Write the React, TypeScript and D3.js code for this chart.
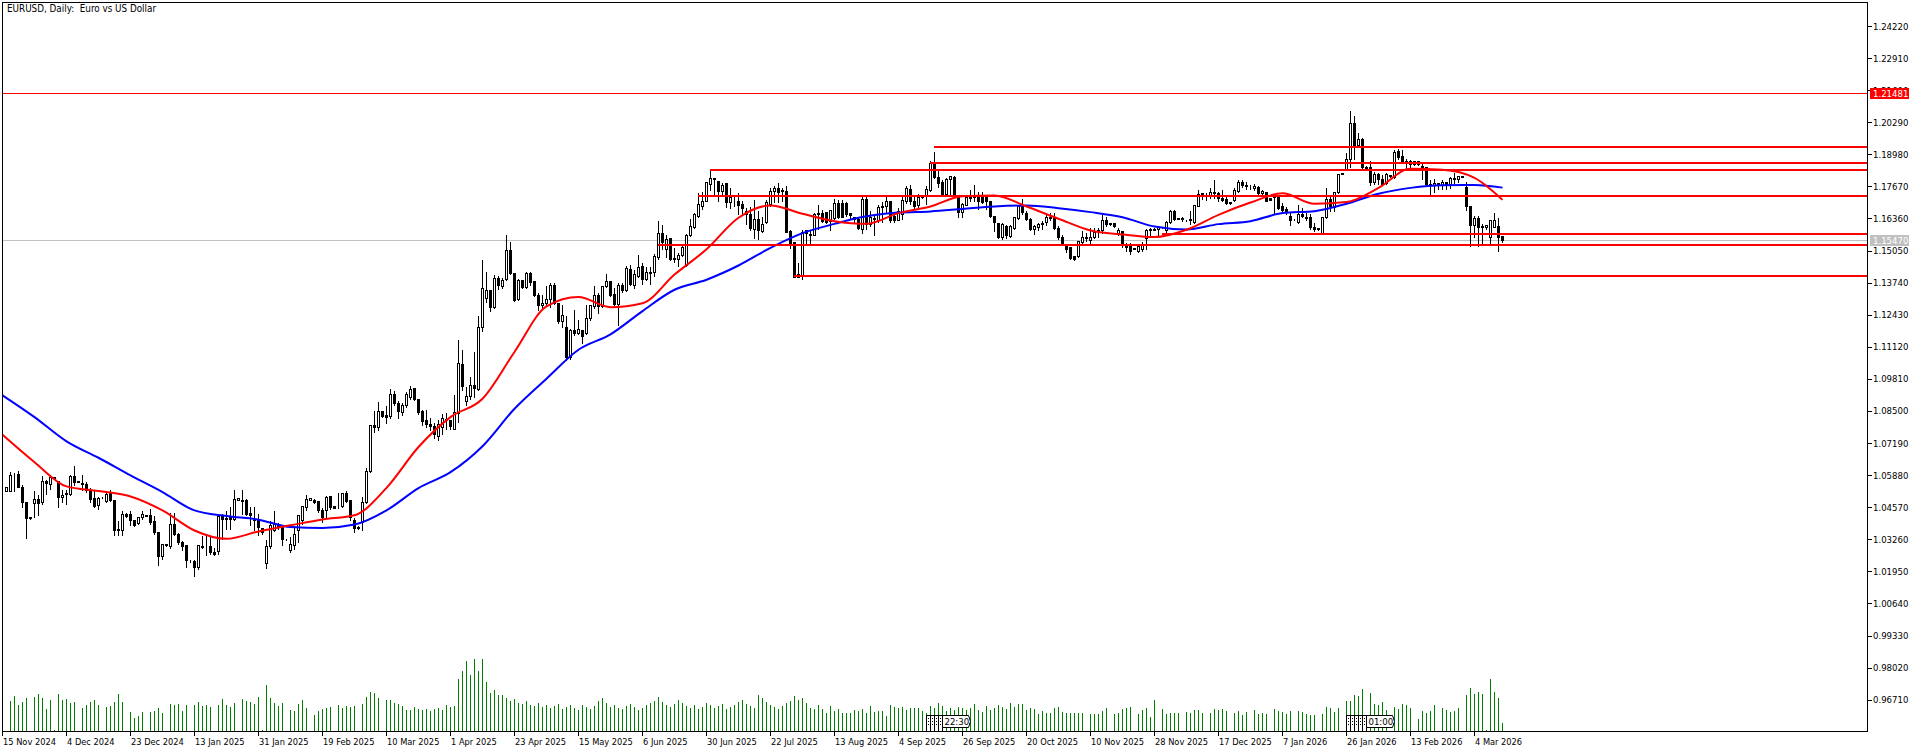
import React from 'react';
import * as d3 from 'd3';

type Candle = [number, number, number, number]; // open, high, low, close in 1/10000

const WIDTH = 1920;
const HEIGHT = 752;

// EURUSD daily. Bars start at index 1.
const candlesWinter2024: Candle[] = [
  [10523,10539,10523,10539],[10523,10604,10523,10590],[10591,10600,10523,10593],[10591,10607,10538,10538],[10538,10553,10458,10478],
  [10478,10478,10331,10414],[10417,10420,10410,10414],[10475,10528,10417,10492],[10492,10512,10424,10475],[10478,10587,10471,10566],
  [10566,10573,10512,10556],[10553,10594,10532,10580],[10580,10585,10575,10578],[10564,10570,10458,10498],[10498,10532,10478,10508],
  [10516,10532,10471,10509],[10512,10594,10505,10584],[10584,10628,10546,10560],[10566,10570,10558,10561],[10555,10594,10526,10550],
  [10550,10566,10519,10528],[10526,10539,10478,10492],[10494,10526,10458,10464],[10467,10501,10451,10496],[10498,10503,10495,10500],
  [10482,10526,10478,10512],[10516,10532,10482,10485],[10488,10488,10342,10365],[10367,10403,10342,10362],[10365,10447,10342,10428],
  [10428,10437,10417,10422],[10428,10444,10383,10406],[10406,10410,10379,10383],[10392,10417,10387,10417],[10417,10444,10410,10428],
  [10426,10430,10420,10422],[10424,10455,10390,10396],[10399,10424,10349,10356],[10356,10356,10220,10256],[10256,10308,10247,10305],
  [10306,10310,10300,10304],[10298,10437,10290,10387],[10387,10437,10342,10346],[10346,10356,10308,10315],[10315,10322,10281,10298],
  [10301,10308,10213,10243],[10243,10247,10233,10241],[10236,10247,10175,10213],[10213,10305,10206,10301],[10298,10342,10290,10296],
  [10298,10342,10260,10300],[10300,10342,10267,10274],[10274,10294,10260,10267],[10278,10434,10267,10421],[10421,10434,10328,10410],
  [10414,10444,10369,10409],[10417,10464,10369,10409],[10410,10532,10406,10492],[10488,10498,10485,10493],[10488,10532,10430,10482],
  [10488,10495,10424,10428],[10434,10464,10383,10424],[10410,10464,10362,10406],[10406,10433,10342,10376],[10372,10376,10346,10356],
  [10229,10328,10209,10297],[10297,10406,10292,10383],[10362,10444,10360,10387],[10390,10396,10370,10376],[10380,10380,10301,10326],
  [10328,10333,10322,10326],[10281,10338,10274,10305],[10301,10383,10288,10346],[10362,10426,10315,10426],[10403,10464,10390,10460],
];
const candlesSpring2025: Candle[] = [
  [10458,10512,10447,10492],[10488,10498,10485,10493],[10485,10494,10476,10480],[10482,10485,10437,10444],[10447,10458,10396,10417],
  [10447,10505,10417,10498],[10501,10505,10451,10458],[10460,10463,10453,10455],[10463,10519,10455,10464],[10462,10519,10458,10516],
  [10516,10528,10478,10482],[10485,10488,10403,10417],[10406,10417,10356,10373],[10375,10383,10366,10372],[10396,10501,10362,10478],
  [10478,10623,10474,10604],[10605,10795,10601,10791],[10791,10853,10764,10785],[10785,10889,10771,10849],[10849,10853,10825,10830],
  [10832,10873,10801,10825],[10828,10945,10821,10918],[10918,10934,10873,10883],[10883,10893,10821,10850],[10846,10887,10832,10873],
  [10873,10931,10866,10921],[10907,10955,10900,10941],[10944,10948,10893,10900],[10900,10905,10839,10846],[10849,10859,10791,10809],
  [10812,10857,10785,10797],[10798,10825,10771,10787],[10787,10805,10741,10755],[10747,10819,10733,10798],[10785,10842,10757,10823],
  [10812,10846,10778,10819],[10812,10819,10778,10787],[10778,10921,10775,10846],[10842,11142,10805,11047],[11043,11104,10934,10952],
  [10891,10951,10873,10910],[10911,10991,10900,10955],[10955,11093,10907,10944],[10941,11240,10937,11194],[11193,11471,11176,11353],
  [11311,11421,11295,11345],[11345,11349,11257,11274],[11274,11410,11271,11394],[11394,11407,11349,11363],[11359,11397,11352,11386],
  [11390,11571,11386,11508],[11508,11546,11410,11414],[11414,11414,11301,11305],[11308,11394,11305,11383],[11386,11390,11353,11356],
  [11356,11421,11353,11414],[11413,11421,11363,11376],[11380,11386,11319,11325],[11325,11335,11261,11281],[11281,11329,11270,11292],
  [11292,11363,11277,11308],[11308,11376,11274,11363],[11363,11376,11285,11291],[11291,11291,11209,11216],[11216,11285,11193,11243],
  [11194,11240,11059,11070],[11070,11190,11063,11182],[11182,11265,11159,11168],[11168,11227,11165,11183],[11179,11186,11127,11155],
  [11168,11285,11165,11231],[11229,11285,11223,11281],[11277,11363,11271,11325],[11322,11335,11250,11280],[11277,11363,11274,11359],
];
const candlesSummer2025: Candle[] = [
  [11359,11414,11356,11379],[11379,11383,11319,11322],[11326,11356,11281,11285],[11285,11376,11203,11363],[11363,11376,11335,11342],
  [11342,11448,11338,11435],[11431,11451,11363,11367],[11363,11431,11353,11410],[11403,11492,11399,11437],[11440,11458,11369,11390],
  [11390,11444,11383,11417],[11417,11444,11369,11413],[11417,11496,11401,11482],[11478,11628,11471,11577],[11577,11614,11512,11539],
  [11512,11573,11478,11553],[11557,11562,11467,11471],[11475,11519,11458,11470],[11470,11499,11440,11488],[11485,11533,11481,11519],
  [11448,11577,11444,11569],[11567,11639,11564,11605],[11601,11662,11598,11655],[11648,11743,11641,11696],[11689,11750,11675,11709],
  [11709,11788,11707,11783],[11777,11832,11753,11802],[11798,11802,11737,11800],[11791,11794,11709,11750],[11750,11784,11737,11771],
  [11781,11784,11682,11703],[11703,11764,11679,11723],[11717,11730,11685,11715],[11709,11746,11655,11693],[11696,11712,11655,11679],
  [11665,11682,11614,11655],[11655,11689,11587,11597],[11594,11716,11557,11635],[11632,11669,11553,11587],[11584,11648,11580,11614],
  [11621,11716,11617,11703],[11696,11764,11689,11750],[11747,11771,11703,11761],[11761,11784,11703,11743],[11753,11764,11709,11747],
  [11750,11771,11580,11580],[11583,11594,11516,11535],[11542,11542,11399,11399],[11399,11458,11397,11410],[11407,11594,11390,11580],
  [11587,11594,11530,11576],[11573,11594,11533,11569],[11569,11662,11567,11655],[11655,11696,11594,11659],[11659,11675,11621,11625],
  [11662,11666,11617,11621],[11625,11675,11587,11671],[11639,11720,11635,11699],[11701,11716,11639,11641],[11701,11716,11641,11644],
  [11701,11709,11648,11655],[11658,11662,11635,11651],[11641,11648,11621,11635],[11635,11648,11594,11598],[11594,11737,11576,11716],
  [11716,11734,11594,11614],[11614,11671,11607,11641],[11639,11655,11567,11635],[11631,11696,11621,11682],[11682,11707,11621,11685],
  [11685,11730,11662,11709],[11707,11709,11621,11631],[11648,11666,11621,11628],[11631,11682,11628,11666],[11655,11730,11635,11712],
];
const candlesAutumn2025: Candle[] = [
  [11707,11771,11700,11760],[11757,11777,11696,11707],[11707,11730,11675,11689],[11693,11739,11675,11723],[11723,11731,11720,11727],
  [11727,11771,11696,11757],[11753,11873,11747,11862],[11859,11913,11802,11807],[11807,11843,11764,11780],[11784,11798,11730,11734],
  [11734,11805,11730,11798],[11798,11815,11737,11811],[11807,11815,11723,11730],[11730,11730,11641,11662],[11662,11703,11641,11696],
  [11693,11730,11690,11723],[11723,11757,11709,11719],[11723,11775,11709,11728],[11726,11750,11675,11709],[11723,11750,11698,11703],
  [11730,11734,11675,11707],[11707,11709,11644,11648],[11648,11648,11584,11621],[11618,11621,11557,11560],[11560,11621,11553,11614],
  [11605,11614,11557,11567],[11564,11614,11560,11605],[11598,11648,11594,11644],[11639,11696,11635,11689],[11689,11720,11655,11662],
  [11660,11669,11631,11635],[11635,11641,11590,11594],[11594,11614,11573,11605],[11601,11621,11587,11614],[11613,11628,11594,11617],
  [11621,11662,11611,11641],[11644,11662,11628,11639],[11641,11662,11594,11598],[11598,11611,11553,11560],[11560,11573,11526,11533],
  [11533,11533,11499,11512],[11519,11519,11469,11474],[11481,11485,11465,11471],[11481,11549,11478,11546],[11539,11587,11533,11562],
  [11560,11580,11545,11556],[11549,11601,11535,11562],[11560,11603,11557,11580],[11590,11601,11560,11584],[11587,11655,11576,11630],
  [11628,11648,11607,11614],[11617,11620,11610,11613],[11617,11622,11600,11607],[11576,11600,11567,11587],[11584,11587,11519,11530],
  [11526,11539,11505,11519],[11522,11539,11489,11505],[11516,11520,11510,11512],[11503,11533,11499,11522],[11512,11546,11505,11533],
  [11557,11598,11512,11590],[11590,11601,11560,11593],[11590,11600,11588,11594],[11592,11607,11560,11601],[11600,11606,11596,11603],
  [11587,11628,11580,11621],[11621,11675,11617,11666],[11666,11675,11630,11635],[11639,11642,11632,11635],[11636,11648,11625,11632],
  [11630,11633,11625,11628],[11631,11669,11614,11635],[11621,11696,11617,11693],[11689,11757,11685,11737],
];
const candlesWinter2026: Candle[] = [
  [11734,11743,11716,11739],[11735,11743,11713,11738],[11726,11764,11720,11746],[11743,11799,11719,11739],[11742,11750,11709,11720],
  [11720,11757,11707,11712],[11716,11730,11696,11698],[11703,11705,11697,11700],[11712,11764,11707,11753],[11747,11798,11743,11784],
  [11784,11798,11764,11771],[11771,11791,11757,11767],[11769,11775,11757,11767],[11761,11780,11753,11767],[11764,11771,11736,11739],
  [11739,11757,11730,11750],[11743,11750,11707,11709],[11720,11725,11710,11712],[11737,11739,11655,11723],[11726,11737,11675,11680],
  [11685,11703,11662,11669],[11675,11685,11655,11662],[11648,11662,11611,11631],[11635,11640,11630,11633],[11621,11696,11617,11655],
  [11655,11682,11641,11648],[11644,11662,11631,11637],[11641,11658,11594,11601],[11603,11621,11584,11594],[11597,11600,11590,11594],
  [11576,11648,11573,11644],[11641,11766,11639,11716],[11716,11730,11666,11685],[11682,11750,11666,11746],[11743,11821,11739,11818],
  [11823,11827,11816,11818],[11839,11907,11832,11879],[11879,12077,11845,12026],[12026,12060,11879,11937],[11938,11991,11927,11961],
  [11961,11968,11843,11845],[11848,11853,11840,11841],[11845,11873,11771,11784],[11784,11829,11775,11818],[11818,11825,11777,11798],
  [11798,11818,11771,11775],[11780,11825,11775,11818],[11815,11819,11805,11809],[11805,11920,11802,11909],[11913,11923,11879,11886],
  [11892,11920,11862,11866],[11869,11882,11843,11863],[11869,11879,11843,11859],[11869,11872,11855,11859],[11871,11875,11855,11859],
  [11852,11869,11798,11845],[11848,11848,11771,11775],[11771,11798,11734,11777],[11771,11802,11743,11781],[11775,11784,11757,11781],
  [11771,11798,11757,11784],[11787,11791,11757,11771],[11775,11811,11761,11802],[11802,11825,11780,11798],[11798,11815,11784,11811],
  [11811,11815,11805,11807],[11764,11791,11669,11685],[11689,11689,11522,11611],[11611,11651,11560,11637],[11639,11651,11522,11601],
  [11605,11617,11526,11601],[11601,11615,11595,11611],[11560,11631,11526,11628],[11603,11662,11601,11628],[11607,11644,11505,11560],
  [11563,11565,11539,11547],
];
const candles: Candle[] = [
  ...candlesWinter2024, ...candlesSpring2025, ...candlesSummer2025, ...candlesAutumn2025, ...candlesWinter2026,
];

// tick volume in thousands, 0 where no bar is visible
const volumesA = [
  0,30,35,26,29,33,0,34,37,33,22,31,1,37,31,32,28,29,0,23,26,29,31,26,0,24,25,29,37,29,0,19,13,15,19,0,19,20,23,18,0,27,26,27,20,26,0,26,29,25,26,24,0,
  26,32,26,24,28,0,32,30,29,27,34,1,46,33,28,25,28,0,21,20,27,31,23,0,16,20,22,23,24,0,26,23,25,24,25,0,27,34,39,38,33,0,31,31,28,27,25,21,21,24,22,21,
  22,20,22,23,21,26,24,25,52,60,70,56,72,60,72,49,38,41,36,
];
const volumesB = [
  36,33,30,32,28,27,30,26,25,28,24,26,23,25,27,22,24,26,23,21,26,24,22,25,30,33,28,24,26,23,22,25,27,24,21,23,26,28,30,34,
  29,26,24,27,31,28,25,23,26,22,24,28,26,23,25,27,22,24,26,29,31,27,25,23,36,33,29,26,24,22,25,28,30,35,31,
];
const volumesC = [
  33,28,23,22,26,22,18,25,20,22,18,18,18,21,20,22,18,25,19,20,20,15,26,24,23,24,21,23,23,23,20,18,25,23,28,25,20,23,21,24,23,21,23,27,21,19,25,21,23,26,24,22,28,24,27,27,
  21,23,22,17,20,18,18,23,24,19,18,18,18,18,18,0,17,17,17,20,23,0,17,18,22,23,24,0,17,21,23,14,31,0,22,17,18,18,18,0,19,18,21,21,18,0,18,22,21,22,20,0,18,20,16,19,0,21,17,18,17,0,22,20,19,17,20,0,20,
];
const volumesD = [
  19,17,16,16,0,17,24,23,19,23,0,30,30,36,35,42,0,38,27,26,29,21,0,24,22,27,26,23,0,12,20,18,20,26,0,23,21,19,20,23,0,36,43,37,39,37,1,52,39,33,8,
];
const volumes = [...volumesA, ...volumesB, ...volumesC, ...volumesD];

// moving averages, one reading every 8 bars and the last bar
const maBars = [
  0,8,16,24,32,40,48,56,64,72,80,88,96,104,112,120,128,136,144,152,160,168,176,184,192,200,208,216,224,232,240,248,256,264,272,280,288,296,304,312,320,328,336,344,352,360,368,375,
];
const maFast = [
  10753,10641,10542,10523,10501,10444,10362,10328,10358,10383,10407,10424,10536,10703,10825,10900,11091,11277,11315,11274,11290,11407,11510,11639,11689,11655,11625,11614,11658,11685,11727,11730,11685,11635,11587,11571,11560,11590,11651,11701,11739,11696,11703,11761,11839,11835,11802,11712,
];
const maSlow = [
  10914,10825,10726,10659,10587,10519,10444,10421,10406,10376,10372,10386,10444,10535,10600,10706,10859,10982,11100,11163,11258,11345,11386,11444,11516,11576,11614,11645,11660,11665,11675,11685,11689,11678,11662,11641,11603,11591,11613,11625,11658,11666,11696,11737,11761,11772,11773,11762,
];

// horizontal levels: price and the bar each one starts from
const levelPrices = [1.1929, 1.1864, 1.1835, 1.1729, 1.1574, 1.1529, 1.1401];
const levelStartBars = [233, 232, 177, 174, 290, 164, 198];

const resistancePrice = 1.21481;
const lastPrice = 1.1547;

const yTickValues = [
  1.2422, 1.2291, 1.216, 1.2029, 1.1898, 1.1767, 1.1636, 1.1505, 1.1374, 1.1243, 1.1112, 1.0981, 1.085, 1.0719, 1.0588, 1.0457, 1.0326, 1.0195, 1.0064, 0.9933, 0.9802, 0.9671,
];
const dateLabels = [
  '15 Nov 2024', '4 Dec 2024', '23 Dec 2024', '13 Jan 2025', '31 Jan 2025', '19 Feb 2025', '10 Mar 2025', '1 Apr 2025', '23 Apr 2025', '15 May 2025', '6 Jun 2025', '30 Jun 2025',
  '22 Jul 2025', '13 Aug 2025', '4 Sep 2025', '26 Sep 2025', '20 Oct 2025', '10 Nov 2025', '28 Nov 2025', '17 Dec 2025', '7 Jan 2026', '26 Jan 2026', '13 Feb 2026', '4 Mar 2026',
];

// stacked event flags on the time axis
const flagGroups = [
  { bars: [231, 232, 233, 234], labelBar: 235, label: '22:30' },
  { bars: [336, 337, 338, 339, 340], labelBar: 341, label: '01:00' },
];

const FONT = '"DejaVu Sans Condensed", "DejaVu Sans", sans-serif';

const FRAME = { left: 2, top: 2, right: 1867, bottom: 731 };

const xBar = d3.scaleLinear().domain([0, 375]).range([2, 1502]);
const yPrice = d3.scaleLinear().domain([1.2422, 0.9671]).range([26, 699.7]);
const yVolume = d3.scaleLinear().domain([0, 100]).range([FRAME.bottom, FRAME.bottom - 100]);

const px = (v: number) => Math.round(v) + 0.5;
const pip = (v: number) => v / 10000;

const maLine = d3
  .line<number>()
  .x((_, i) => xBar(maBars[i]) + 0.5)
  .y(d => yPrice(pip(d)))
  .curve(d3.curveMonotoneX);

const CandleMark: React.FC<{ candle: Candle; bar: number }> = ({ candle, bar }) => {
  const [o, h, l, c] = candle;
  const x = xBar(bar);
  const top = px(yPrice(pip(Math.max(o, c))));
  const bottom = px(yPrice(pip(Math.min(o, c))));
  const bull = c >= o;
  return (
    <g>
      <line x1={x + 0.5} x2={x + 0.5} y1={px(yPrice(pip(h)))} y2={px(yPrice(pip(l)))} stroke="#000" />
      <rect x={x - 0.5} y={top} width={2} height={bottom - top} fill={bull ? '#fff' : '#000'} stroke="#000" />
    </g>
  );
};

const Flags: React.FC<{ group: (typeof flagGroups)[number] }> = ({ group }) => {
  const top = 715.5;
  const labelX = xBar(group.labelBar) + 0.5;
  const mid = 721.5;
  const boxBottom = 727.5;
  return (
    <g>
      {group.bars.map(b => {
        const x = xBar(b) + 0.5;
        return (
          <g key={b}>
            <rect x={x} y={top} width={4} height={FRAME.bottom - top} fill="#fff" stroke="#000" shapeRendering="crispEdges" />
            <line x1={x + 2} x2={x + 2} y1={top + 2} y2={boxBottom - 1} stroke="#000" strokeDasharray="1 2" shapeRendering="crispEdges" />
          </g>
        );
      })}
      <line x1={labelX} x2={labelX} y1={top} y2={FRAME.bottom} stroke="#000" shapeRendering="crispEdges" />
      <path
        d={`M${labelX} ${top}H${labelX + 26}L${labelX + 28} ${mid}L${labelX + 26} ${boxBottom}H${labelX}Z`}
        fill="#fff"
        stroke="#000"
      />
      <text x={labelX + 2} y={725} fontSize={9.5} fontFamily={FONT} fill="#000">
        {group.label}
      </text>
    </g>
  );
};

export default function App() {
  return (
    <svg
      width={WIDTH}
      height={HEIGHT}
      style={{ position: 'absolute', left: 0, top: 0, display: 'block', background: '#fff' }}
    >
      <g shapeRendering="crispEdges">
        <line x1={FRAME.left} x2={FRAME.right} y1={px(yPrice(lastPrice))} y2={px(yPrice(lastPrice))} stroke="#c0c0c0" />
        {candles.map((c, i) => (
          <CandleMark key={i} candle={c} bar={i + 1} />
        ))}
        {volumes.map((v, i) =>
          v > 0 ? (
            <line
              key={i}
              x1={xBar(i + 1) + 0.5}
              x2={xBar(i + 1) + 0.5}
              y1={yVolume(v)}
              y2={FRAME.bottom}
              stroke="#008000"
            />
          ) : null
        )}
      </g>

      <path d={maLine(maSlow) || ''} fill="none" stroke="#0000ff" strokeWidth={2} />
      <path d={maLine(maFast) || ''} fill="none" stroke="#ff0000" strokeWidth={2} />

      <g shapeRendering="crispEdges">
        {levelPrices.map((p, i) => (
          <line
            key={p}
            x1={xBar(levelStartBars[i])}
            x2={FRAME.right}
            y1={Math.round(yPrice(p))}
            y2={Math.round(yPrice(p))}
            stroke="#ff0000"
            strokeWidth={2}
          />
        ))}
        <line
          x1={FRAME.left}
          x2={FRAME.right}
          y1={px(yPrice(resistancePrice))}
          y2={px(yPrice(resistancePrice))}
          stroke="#ff0000"
        />
      </g>

      {flagGroups.map(g => (
        <Flags key={g.label} group={g} />
      ))}

      {/* frame */}
      <rect
        x={FRAME.left + 0.5}
        y={FRAME.top + 0.5}
        width={FRAME.right - FRAME.left}
        height={FRAME.bottom - FRAME.top}
        fill="none"
        stroke="#000"
        shapeRendering="crispEdges"
      />

      {/* price axis */}
      {yTickValues.map(t => (
        <g key={t}>
          <line
            x1={FRAME.right}
            x2={FRAME.right + 5}
            y1={px(yPrice(t))}
            y2={px(yPrice(t))}
            stroke="#000"
            shapeRendering="crispEdges"
          />
          <text x={FRAME.right + 6} y={yPrice(t) + 3.5} fontSize={9.5} fontFamily={FONT} fill="#000">
            {t.toFixed(5)}
          </text>
        </g>
      ))}
      <rect x={1870} y={px(yPrice(resistancePrice)) - 5.5} width={39} height={11} fill="#ff0000" />
      <text x={1873} y={yPrice(resistancePrice) + 4} fontSize={9.5} fontFamily={FONT} fill="#fff">
        {resistancePrice.toFixed(5)}
      </text>
      <rect x={1870} y={px(yPrice(lastPrice)) - 5.5} width={39} height={11} fill="#c0c0c0" />
      <text x={1873} y={yPrice(lastPrice) + 4} fontSize={9.5} fontFamily={FONT} fill="#fff">
        {lastPrice.toFixed(5)}
      </text>

      {/* time axis */}
      {dateLabels.map((d, i) => {
        const x = xBar(i * 16);
        return (
          <g key={d}>
            <line x1={x + 0.5} x2={x + 0.5} y1={FRAME.bottom} y2={FRAME.bottom + 5} stroke="#000" shapeRendering="crispEdges" />
            <text x={x + 1} y={744.5} fontSize={9.2} fontFamily={FONT} fill="#000">
              {d}
            </text>
          </g>
        );
      })}

      <text x={7} y={12} fontSize={9.8} fontFamily={FONT} fill="#000" xmlSpace="preserve">
        EURUSD, Daily:  Euro vs US Dollar
      </text>
    </svg>
  );
}
